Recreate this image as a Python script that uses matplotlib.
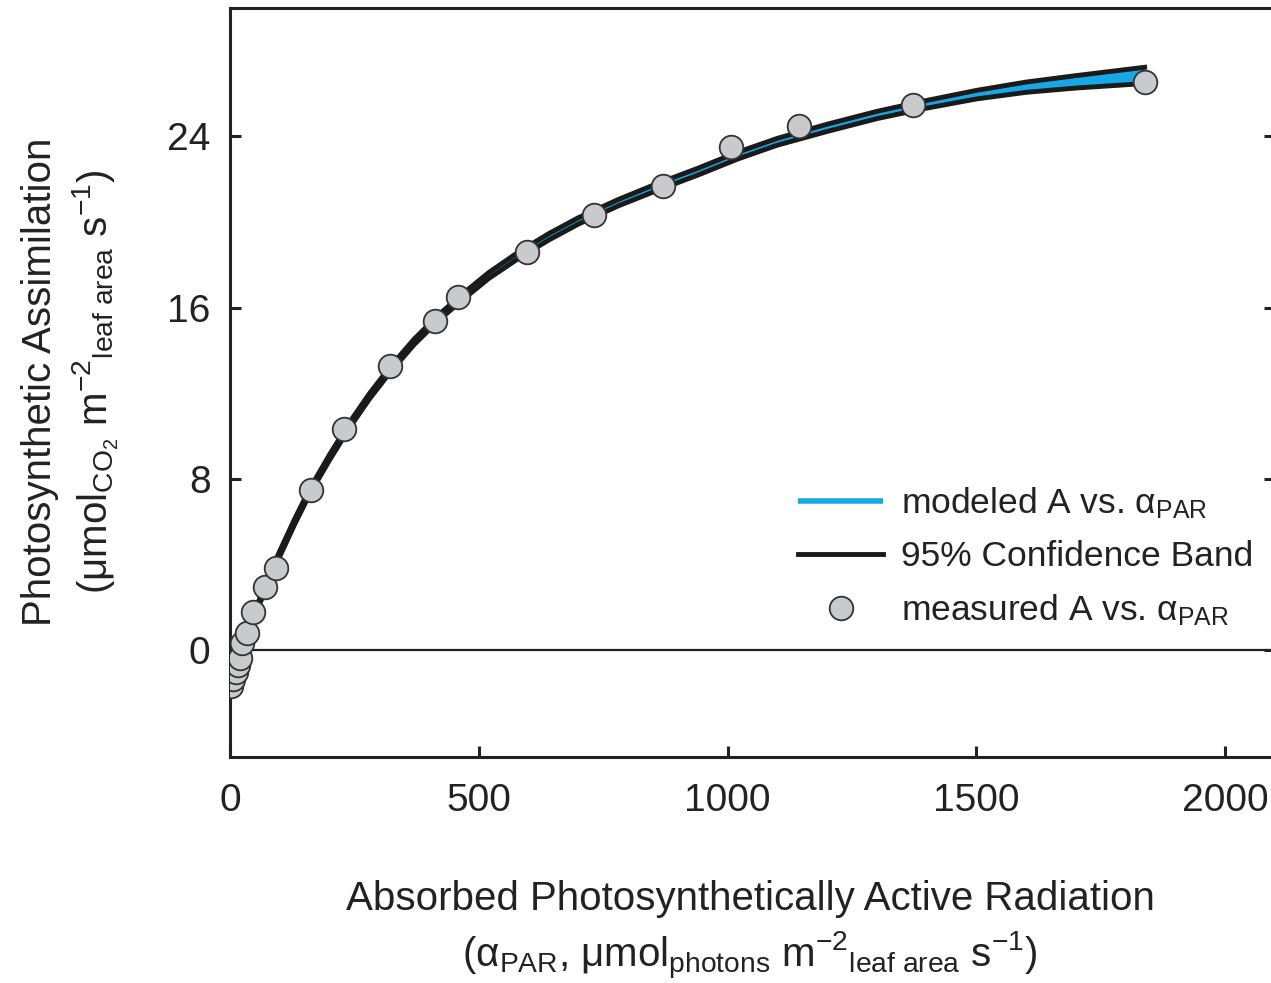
import numpy as np
import matplotlib
matplotlib.use('Agg')
import matplotlib.pyplot as plt

plt.rcParams['font.family'] = ['Liberation Sans', 'DejaVu Sans']
plt.rcParams['mathtext.fontset'] = 'custom'
plt.rcParams['mathtext.rm'] = 'Liberation Sans'
plt.rcParams['mathtext.it'] = 'Liberation Sans:italic'
plt.rcParams['mathtext.bf'] = 'Liberation Sans:bold'

# measured points (absorbed PAR, assimilation)
par_meas = [2, 6, 12, 16, 20, 24, 34, 46, 70, 92, 162, 230, 322, 412, 458,
            596, 732, 870, 1006, 1144, 1372, 1838]
a_meas = [-1.68, -1.35, -1.03, -0.70, -0.37, 0.33, 0.79, 1.77, 2.94, 3.82,
          7.46, 10.35, 13.29, 15.39, 16.51, 18.61, 20.34, 21.69, 23.51,
          24.49, 25.47, 26.54]

# modeled curve
par_model = [0, 10, 20, 30, 45, 60, 80, 100, 130, 160, 200, 240, 280, 320,
             370, 420, 470, 520, 580, 640, 700, 780, 860, 940, 1020, 1100,
             1200, 1300, 1400, 1500, 1600, 1700, 1838]
a_model = [-1.8, -1.15, -0.45, 0.3, 1.35, 2.3, 3.45, 4.5, 6.0, 7.4, 9.0,
           10.5, 11.85, 13.05, 14.4, 15.55, 16.55, 17.5, 18.45, 19.3, 20.05,
           20.9, 21.65, 22.35, 23.1, 23.75, 24.4, 25.0, 25.5, 25.95, 26.3,
           26.55, 26.85]
# 95% confidence band half width
band_half = [0.13, 0.13, 0.13, 0.13, 0.13, 0.13, 0.13, 0.13, 0.13, 0.13,
             0.13, 0.13, 0.13, 0.13, 0.13, 0.13, 0.14, 0.14, 0.15, 0.15,
             0.15, 0.15, 0.16, 0.16, 0.16, 0.16, 0.17, 0.17, 0.18, 0.2,
             0.24, 0.29, 0.38]

par_model = np.array(par_model)
a_model = np.array(a_model)
band_half = np.array(band_half)
upper = a_model + band_half
lower = a_model - band_half

blue = '#16a8e6'
ink = '#222222'

fig = plt.figure(figsize=(12.71, 9.83), dpi=100)
ax = fig.add_axes([230 / 1271, 1 - 757 / 983, 1045 / 1271, 749 / 983])

ax.axhline(0, color=ink, lw=1.6, zorder=1)

ax.fill_between(par_model, lower, upper, color=blue, lw=0, zorder=2)
ax.plot(par_model, a_model, color=blue, lw=4, zorder=2,
        solid_capstyle='butt', label=r'modeled A vs. $\mathrm{\alpha}_{\rm PAR}$')
ax.plot(par_model, upper, color='#1a1a1a', lw=3.5, zorder=3,
        label='95% Confidence Band')
ax.plot(par_model, lower, color='#1a1a1a', lw=3.5, zorder=3)
ax.plot(par_meas, a_meas, 'o', ms=17, mfc='#c9cacd', mec='#333333', mew=1.3,
        zorder=4, label=r'measured A vs. $\mathrm{\alpha}_{\rm PAR}$')

ax.set_xlim(0, 2100)
ax.set_ylim(-5, 30)
ax.set_xticks([0, 500, 1000, 1500, 2000])
ax.set_yticks([0, 8, 16, 24])

for s in ax.spines.values():
    s.set_linewidth(2.2)
    s.set_color(ink)

ax.tick_params(axis='both', direction='in', length=8, width=2.2,
               color=ink, labelsize=28, pad=14, labelcolor=ink)
ax.tick_params(axis='x', pad=19)
ax.tick_params(axis='y', right=True)

fig.text(750 / 1271, 1 - 931 / 983,
         'Absorbed Photosynthetically Active Radiation\n'
         r'($\mathrm{\alpha}_{\rm PAR}$, $\rm \mu mol_{photons}$ m$^{-2}$$_{\rm leaf\ area}$ s$^{-1}$)',
         fontsize=29, color=ink, ha='center', va='center', linespacing=1.3)
fig.text(71 / 1271, 1 - 382 / 983,
         'Photosynthetic Assimilation\n'
         r'($\rm \mu mol_{CO_2}$ m$^{-2}$$_{\rm leaf\ area}$ s$^{-1}$)',
         fontsize=29, color=ink, ha='center', va='center', rotation=90,
         linespacing=1.3)

leg = ax.legend(loc='upper left', bbox_to_anchor=(798 / 1271, 1 - 485 / 983),
                bbox_transform=fig.transFigure, frameon=False, fontsize=25.5,
                handlelength=2.4, handletextpad=0.5, labelspacing=0.55,
                borderpad=0, borderaxespad=0)
for t in leg.get_texts():
    t.set_color(ink)

fig.savefig('out.png', dpi=100)
